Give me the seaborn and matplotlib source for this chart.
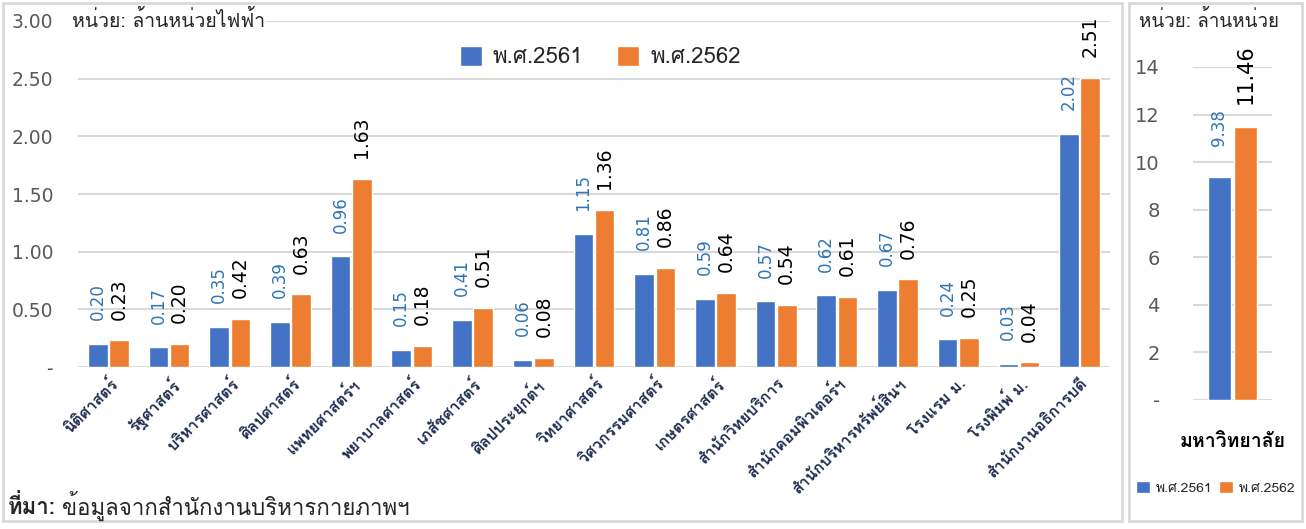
import matplotlib
matplotlib.use('Agg')
import matplotlib.pyplot as plt
from matplotlib import font_manager
from matplotlib.ft2font import FT2Font
from matplotlib.patches import Rectangle
import seaborn as sns
import pandas as pd

# ข้อมูลการใช้ไฟฟ้า (ล้านหน่วย)
units = ['นิติศาสตร์', 'รัฐศาสตร์', 'บริหารศาสตร์', 'ศิลปศาสตร์', 'แพทยศาสตร์ฯ',
         'พยาบาลศาสตร์', 'เภสัชศาสตร์', 'ศิลปประยุกต์ฯ', 'วิทยาศาสตร์',
         'วิศวกรรมศาสตร์', 'เกษตรศาสตร์', 'สำนักวิทยบริการ', 'สำนักคอมพิวเตอร์ฯ',
         'สำนักบริหารทรัพย์สินฯ', 'โรงแรม ม.', 'โรงพิมพ์ ม.', 'สำนักงานอธิการบดี']
y2561 = [0.20, 0.17, 0.35, 0.39, 0.96, 0.15, 0.41, 0.06, 1.15,
         0.81, 0.59, 0.57, 0.62, 0.67, 0.24, 0.03, 2.02]
y2562 = [0.23, 0.20, 0.42, 0.63, 1.63, 0.18, 0.51, 0.08, 1.36,
         0.86, 0.64, 0.54, 0.61, 0.76, 0.25, 0.04, 2.51]
years = ['พ.ศ.2561', 'พ.ศ.2562']
total_name = ['มหาวิทยาลัย']
total_vals = [9.38, 11.46]

BLUE = '#4472C4'
ORANGE = '#ED7D31'
LBL_BLUE = '#2E75B6'
GRAY = '#595959'

# หาฟอนต์ที่มีอักษรไทย
thai_font = None
for f in font_manager.fontManager.ttflist:
    try:
        if 0x0E01 in FT2Font(f.fname).get_charmap():
            thai_font = f.name
            if f.weight in ('normal', 400, 'regular'):
                break
    except Exception:
        pass
fams = [thai_font, 'DejaVu Sans'] if thai_font else ['DejaVu Sans']

sns.set_theme(style='white')
plt.rcParams['font.family'] = fams

df = pd.DataFrame({
    'หน่วยงาน': units * 2,
    'ปี': [years[0]] * len(units) + [years[1]] * len(units),
    'ค่า': y2561 + y2562,
})
df_tot = pd.DataFrame({'หน่วยงาน': total_name * 2, 'ปี': years, 'ค่า': total_vals})

fig = plt.figure(figsize=(13.06, 5.29), dpi=100)
W, H = 1306, 529

# กรอบพื้นหลัง
fig.patches.append(Rectangle((3 / W, 8 / H), 1119 / W, 518 / H, transform=fig.transFigure,
                             fill=False, ec='#D9D9D9', lw=2))
fig.patches.append(Rectangle((1129 / W, 8 / H), 173 / W, 518 / H, transform=fig.transFigure,
                             fill=False, ec='#D9D9D9', lw=2))

# ----- กราฟหลัก -----
ax = fig.add_axes([78 / W, 1 - 367 / H, 1032 / W, 346 / H])
sns.barplot(data=df, x='หน่วยงาน', y='ค่า', hue='ปี', palette=[BLUE, ORANGE],
            width=0.7, gap=0.08, saturation=1, ax=ax)
ax.set_ylim(0, 3)
ax.set_xlim(-0.5, len(units) - 0.5)
ax.set_yticks([0, 0.5, 1, 1.5, 2, 2.5, 3])
ax.set_yticklabels(['-', '0.50', '1.00', '1.50', '2.00', '2.50', '3.00'],
                   fontsize=13.5, color=GRAY, family='DejaVu Sans')
ax.yaxis.grid(True, color='#D9D9D9', lw=1.5)
ax.set_axisbelow(True)
for s in ax.spines.values():
    s.set_visible(False)
ax.tick_params(length=0, axis='y', pad=18)
ax.tick_params(length=0, axis='x', pad=6)
ax.set_xlabel('')
ax.set_ylabel('')
ax.set_xticks(range(len(units)))
ax.set_xticklabels(units, rotation=45, ha='right', rotation_mode='anchor',
                   fontsize=11.5, fontweight='bold', color='#1F2D4F')

for bar, v in zip(ax.containers[0], y2561):
    ax.annotate(f'{v:.2f}', (bar.get_x() + bar.get_width() / 2, v), xytext=(0, 17),
                textcoords='offset points', rotation=90, ha='center', va='bottom',
                fontsize=12, color=LBL_BLUE, family='DejaVu Sans', annotation_clip=False)
for bar, v in zip(ax.containers[1], y2562):
    ax.annotate(f'{v:.2f}', (bar.get_x() + bar.get_width() / 2, v), xytext=(0, 15),
                textcoords='offset points', rotation=90, ha='center', va='bottom',
                fontsize=13.5, color='black', family='DejaVu Sans', annotation_clip=False)

h, l = ax.get_legend_handles_labels()
ax.legend(h, l, loc='center', bbox_to_anchor=(0.506, 0.896), ncol=2, frameon=False,
          fontsize=16, handlelength=1.0, handleheight=1.0, columnspacing=1.5,
          handletextpad=0.5)

fig.text(72 / W, 1 - 20 / H, 'หน่วย: ล้านหน่วยไฟฟ้า', fontsize=14, va='center', ha='left',
         bbox=dict(fc='white', ec='none', pad=1))
fig.text(8 / W, 1 - 506 / H, 'ที่มา:', fontsize=16, fontweight='bold', va='center', ha='left')
fig.text(62 / W, 1 - 506 / H, 'ข้อมูลจากสำนักงานบริหารกายภาพฯ', fontsize=16,
         va='center', ha='left')

# ----- กราฟรวมมหาวิทยาลัย -----
ax2 = fig.add_axes([1193 / W, 1 - 400 / H, 79 / W, 333 / H])
sns.barplot(data=df_tot, x='หน่วยงาน', y='ค่า', hue='ปี', palette=[BLUE, ORANGE],
            width=0.66, gap=0.1, saturation=1, ax=ax2)
ax2.set_ylim(0, 14)
ax2.set_xlim(-0.5, 0.5)
ax2.set_yticks(range(0, 15, 2))
ax2.set_yticklabels(['-'] + [str(t) for t in range(2, 15, 2)], fontsize=14, color=GRAY,
                    family='DejaVu Sans')
ax2.yaxis.grid(True, color='#D9D9D9', lw=1.5)
ax2.set_axisbelow(True)
for s in ax2.spines.values():
    s.set_visible(False)
ax2.tick_params(length=0, axis='y', pad=24)
ax2.tick_params(length=0, axis='x', pad=24)
ax2.set_xlabel('')
ax2.set_ylabel('')
ax2.set_xticks([0])
ax2.set_xticklabels(total_name, fontsize=14, fontweight='bold', color='black')
ax2.legend_.remove()

b0, b1 = ax2.containers[0][0], ax2.containers[1][0]
ax2.annotate(f'{total_vals[0]:.2f}', (b0.get_x() + b0.get_width() / 2, total_vals[0]),
             xytext=(0, 22), textcoords='offset points', rotation=90, ha='center',
             va='bottom', fontsize=12, color=LBL_BLUE, family='DejaVu Sans',
             annotation_clip=False)
ax2.annotate(f'{total_vals[1]:.2f}', (b1.get_x() + b1.get_width() / 2, total_vals[1]),
             xytext=(0, 17), textcoords='offset points', rotation=90, ha='center',
             va='bottom', fontsize=15, color='black', family='DejaVu Sans',
             annotation_clip=False)

fig.legend(h, l, loc='center', bbox_to_anchor=(1216 / W, 1 - 488 / H), ncol=2,
           frameon=False, fontsize=10, handlelength=1.0, handleheight=1.0,
           columnspacing=0.5, handletextpad=0.4)
fig.text(1209 / W, 1 - 20 / H, 'หน่วย: ล้านหน่วย', fontsize=13.5, ha='center', va='center')

fig.savefig('out.png', dpi=100)
